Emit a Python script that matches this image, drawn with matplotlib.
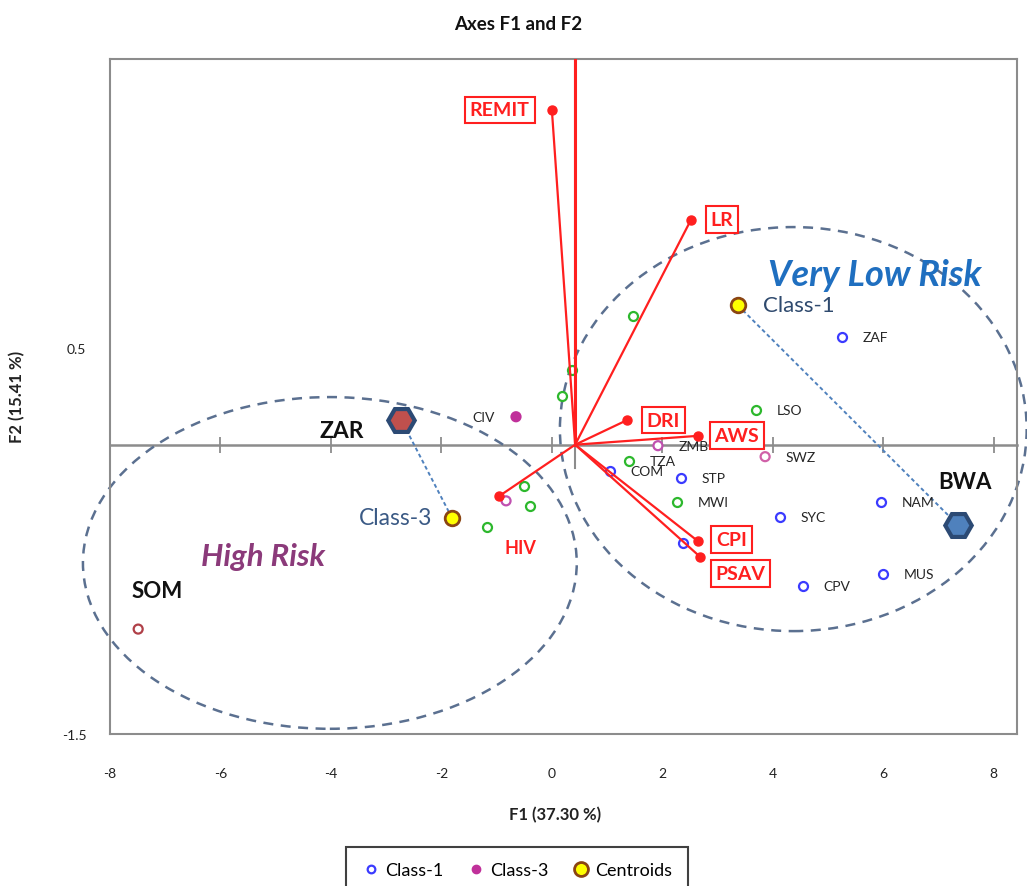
import matplotlib
matplotlib.use("Agg")
import matplotlib.pyplot as plt
from matplotlib.patches import Ellipse
from matplotlib.lines import Line2D

plt.rcParams["font.family"] = ["Lato", "DejaVu Sans"]
plt.rcParams["axes.unicode_minus"] = False

# ---- Observations: factor scores on F1 / F2 ----
class1_names = ["ZAF", "NAM", "MUS", "CPV", "SYC", "STP", "COM", ""]
class1_f1 = [5.25, 5.95, 5.99, 4.54, 4.13, 2.33, 1.05, 2.37]
class1_f2 = [0.561, -0.296, -0.670, -0.732, -0.374, -0.171, -0.135, -0.509]

class3_names = ["CIV", "ZMB", "SWZ", "", "SOM"]
class3_f1 = [-0.65, 1.92, 3.86, -0.83, -7.49]
class3_f2 = [0.145, -0.005, -0.062, -0.291, -0.956]

other_names = ["LSO", "TZA", "MWI", "", "", "", "", "", ""]
other_f1 = [3.69, 1.39, 2.26, 1.47, 0.36, 0.18, -0.51, -0.40, -1.18]
other_f2 = [0.182, -0.083, -0.296, 0.665, 0.390, 0.255, -0.213, -0.317, -0.426]

centroid_names = ["Class-1", "Class-3"]
centroid_f1 = [3.37, -1.81]
centroid_f2 = [0.722, -0.379]

central_names = ["BWA", "ZAR"]
central_f1 = [7.35, -2.73]
central_f2 = [-0.416, 0.130]

# ---- Variable loadings (own overlay scale) ----
var_names = ["REMIT", "LR", "DRI", "AWS", "CPI", "PSAV", "HIV"]
var_f1 = [-0.050, 0.249, 0.112, 0.264, 0.264, 0.269, -0.163]
var_f2 = [0.868, 0.583, 0.064, 0.023, -0.250, -0.291, -0.133]

# ---- Risk regions ----
region_names = ["High Risk", "Very Low Risk"]
region_cx = [-4.02, 4.37]
region_cy = [-0.613, 0.081]
region_w = [8.94, 8.45]
region_h = [1.72, 2.095]

x_ticks = [-8, -6, -4, -2, 0, 2, 4, 6, 8]
y_ticks = [-1.5, 0.5]

# ---- styling ----
GRAY = "#8c8c8c"
RED = "#ff1f1f"
BLUE = "#3b3bff"
GREEN = "#2db82d"
MAGENTA = "#c0309a"
LABEL = "#262626"
class3_edges = [MAGENTA, "#c050b0", "#d060a8", "#c050b0", "#b04048"]
class3_faces = [MAGENTA, "white", "white", "white", "white"]
central_faces = ["#4f81bd", "#c0504d"]
HEX_EDGE = "#2c4a74"

fig = plt.figure(figsize=(10.27, 8.87), dpi=100)
pos = [110 / 1027, 1 - 735 / 887, 907 / 1027, 675 / 887]
ax = fig.add_axes(pos)
ax.set_xlim(-8, 8.42)
ax.set_ylim(-1.5, 2.0)
for sp in ax.spines.values():
    sp.set_color(GRAY)
    sp.set_linewidth(1.5)
ax.set_xticks(x_ticks)
ax.set_yticks(y_ticks)
ax.set_yticklabels([f"{v:g}" for v in y_ticks])
ax.tick_params(axis="x", length=0, pad=24, labelsize=10, labelcolor="#222222")
ax.tick_params(axis="y", length=0, pad=17, labelsize=10, labelcolor="#222222")

# horizontal F2 = 0 axis with tick marks
y0 = -ax.get_ylim()[0] / (ax.get_ylim()[1] - ax.get_ylim()[0])
zero_axis = ax.secondary_xaxis(y0)
zero_axis.set_xticks(x_ticks)
zero_axis.tick_params(direction="inout", length=11, width=1.3, color=GRAY,
                      labelbottom=False, labeltop=False)
for sp in zero_axis.spines.values():
    sp.set_color(GRAY)
    sp.set_linewidth(1.8)

# region ellipses
for cx, cy, w, h in zip(region_cx, region_cy, region_w, region_h):
    ax.add_patch(Ellipse((cx, cy), w, h, fill=False, ls=(0, (4, 3)),
                         lw=1.8, ec="#5b7090", clip_on=False, zorder=2))

# links from centroids to central objects
for i in range(len(centroid_f1)):
    ax.plot([centroid_f1[i], central_f1[i]], [centroid_f2[i], central_f2[i]],
            ls=(0, (2, 1.5)), lw=1.4, color="#4f81bd", zorder=3)

# observations
ax.scatter(class1_f1, class1_f2, s=42, facecolor="white", edgecolor=BLUE,
           lw=1.6, zorder=5)
ax.scatter(other_f1, other_f2, s=42, facecolor="white", edgecolor=GREEN,
           lw=1.6, zorder=5)
ax.scatter(class3_f1, class3_f2, s=42, facecolor=class3_faces,
           edgecolor=class3_edges, lw=1.6, zorder=5)

def point_labels(names, xs, ys, side=1):
    for n, x, y in zip(names, xs, ys):
        if not n:
            continue
        ax.annotate(n, (x, y), xytext=(15 * side, 0), textcoords="offset points",
                    ha="left" if side > 0 else "right", va="center",
                    fontsize=10, color=LABEL, zorder=6)

point_labels(class1_names, class1_f1, class1_f2)
point_labels(other_names, other_f1, other_f2)
point_labels(class3_names[1:4], class3_f1[1:4], class3_f2[1:4])
point_labels(class3_names[:1], class3_f1[:1], class3_f2[:1], side=-1)
ax.annotate(class3_names[4], (class3_f1[4], class3_f2[4]), xytext=(14, 28),
            textcoords="offset points", ha="center", va="center",
            fontsize=16, fontweight="bold", color="#111111")

# central objects (hexagons)
for x, y, fc in zip(central_f1, central_f2, central_faces):
    ax.plot(x, y, marker="H", ms=19, mfc=fc, mec=HEX_EDGE, mew=3, zorder=7)
ax.annotate(central_names[0], (central_f1[0], central_f2[0]), xytext=(5, 31),
            textcoords="offset points", ha="center", va="center",
            fontsize=16, fontweight="bold", color="#111111")
ax.annotate(central_names[1], (central_f1[1], central_f2[1]), xytext=(-27, -8),
            textcoords="offset points", ha="right", va="center",
            fontsize=16.5, fontweight="bold", color="#111111")

# centroids
ax.plot(centroid_f1, centroid_f2, "o", ms=10.5, mfc="#ffff00", mec="#8b4513",
        mew=2, ls="none", zorder=8)
ax.annotate(centroid_names[0], (centroid_f1[0], centroid_f2[0]), xytext=(18, 0),
            textcoords="offset points", ha="left", va="center",
            fontsize=16, color="#2f4a6e")
ax.annotate(centroid_names[1], (centroid_f1[1], centroid_f2[1]), xytext=(-14, 0),
            textcoords="offset points", ha="right", va="center",
            fontsize=16.5, color="#3b5a85")

# region captions
ax.text(-5.23, -0.577, region_names[0], ha="center", va="center", fontsize=22.5,
        fontweight="bold", fontstyle="italic", color="#8b3a7a", zorder=6)
ax.text(5.85, 0.88, region_names[1], ha="center", va="center", fontsize=26,
        fontweight="bold", fontstyle="italic", color="#1f6fc0", zorder=6)

# ---- variable vectors on an overlay scale ----
ax2 = fig.add_axes(pos)
ax2.set_xlim(-1.0, 0.95)
ax2.set_ylim(-0.75, 1.0)
ax2.axis("off")
ax2.patch.set_alpha(0)
o_y = 0.75 / 1.75
ax2.axvline(0, ymin=o_y - 0.035, ymax=1, color=GRAY, lw=1.5)
ax2.axvline(0, ymin=o_y, ymax=1, color=RED, lw=2.2)

label_offsets = [(-16, 0), (14, 0), (14, 0), (12, 0), (13, 1), (11, -12), (4, -37)]
for name, x, y, off in zip(var_names, var_f1, var_f2, label_offsets):
    ax2.plot([0, x], [0, y], color=RED, lw=1.6, solid_capstyle="round")
    ax2.plot(x, y, "o", ms=6.5, color=RED)
    boxed = name != "HIV"
    ax2.annotate(name, (x, y), xytext=off, textcoords="offset points",
                 ha="right" if off[0] < 0 else "left", va="center",
                 fontsize=14 if boxed else 13, fontweight="bold", color=RED,
                 bbox=dict(boxstyle="square,pad=0.25", fc="white", ec=RED, lw=1.5)
                 if boxed else None)

# ---- titles ----
fig.text(518 / 1027, 1 - 24 / 887, "Axes F1 and F2", ha="center", va="center",
         fontsize=13.5, fontweight="bold", color="#111111")
fig.text(555 / 1027, 1 - 815 / 887, "F1 (37.30 %)", ha="center", va="center",
         fontsize=12, fontweight="bold", color="#222222")
fig.text(17 / 1027, 1 - 397 / 887, "F2 (15.41 %)", ha="center", va="center",
         rotation=90, fontsize=12, fontweight="bold", color="#222222")

handles = [
    Line2D([], [], ls="none", marker="o", ms=5.5, mfc="white", mec=BLUE, mew=1.6),
    Line2D([], [], ls="none", marker="o", ms=6, mfc=MAGENTA, mec=MAGENTA),
    Line2D([], [], ls="none", marker="o", ms=10, mfc="#ffff00", mec="#8b4513", mew=2),
]
leg = fig.legend(handles, ["Class-1", "Class-3", "Centroids"], ncol=3,
                 loc="upper center", bbox_to_anchor=(517 / 1027, 1 - 848 / 887),
                 frameon=True, fancybox=False, edgecolor="#111111", fontsize=13,
                 handletextpad=0.3, columnspacing=1.3, handlelength=1.0,
                 borderpad=0.85, borderaxespad=0)
leg.get_frame().set_linewidth(1.5)

fig.savefig("out.png", dpi=100)
